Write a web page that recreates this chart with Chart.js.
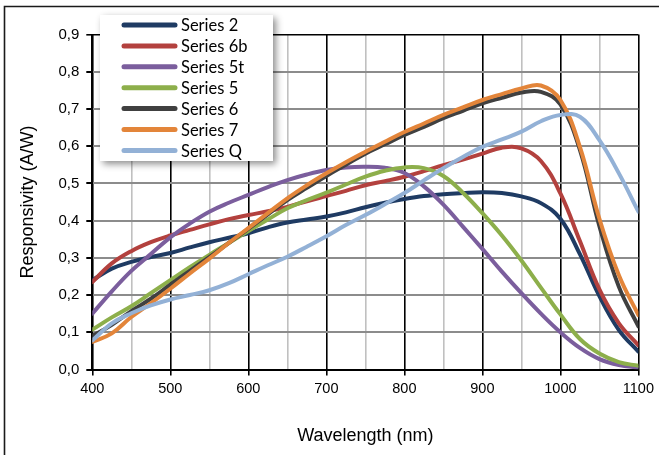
<!DOCTYPE html>
<html>
<head>
<meta charset="utf-8">
<title>Responsivity</title>
<script src="https://cdn.jsdelivr.net/npm/chart.js@4.4.1/dist/chart.umd.min.js"></script>
<style>
  html, body { margin: 0; padding: 0; background: #fff; }
  canvas { display: block; }
</style>
</head>
<body>
<canvas id="respChart" width="659" height="455"></canvas>
<script>
// wavelength samples (nm), shared by every series
const wavelengths = [400, 425, 450, 475, 500, 525, 550, 575, 600, 625, 650, 675, 700, 725, 750,
  775, 800, 825, 850, 875, 900, 925, 950, 975, 1000, 1025, 1050, 1075, 1100];

// responsivity (A/W)
const series2 = [0.240, 0.271, 0.289, 0.302, 0.313, 0.328, 0.342, 0.354, 0.366, 0.382, 0.395, 0.403, 0.411, 0.422, 0.436,
  0.448, 0.458, 0.466, 0.471, 0.474, 0.476, 0.474, 0.465, 0.447, 0.405, 0.310, 0.197, 0.106, 0.048];
const series6b = [0.235, 0.285, 0.318, 0.342, 0.360, 0.375, 0.390, 0.404, 0.415, 0.425, 0.437, 0.452, 0.466, 0.480, 0.495,
  0.506, 0.518, 0.533, 0.549, 0.564, 0.580, 0.596, 0.594, 0.560, 0.473, 0.345, 0.215, 0.124, 0.065];
const series5t = [0.150, 0.210, 0.265, 0.310, 0.355, 0.392, 0.424, 0.448, 0.469, 0.490, 0.509, 0.524, 0.536, 0.543, 0.545,
  0.542, 0.528, 0.492, 0.443, 0.384, 0.324, 0.263, 0.205, 0.150, 0.100, 0.058, 0.028, 0.012, 0.005];
const series5 = [0.107, 0.140, 0.170, 0.205, 0.240, 0.275, 0.308, 0.340, 0.372, 0.403, 0.433, 0.455, 0.475, 0.497, 0.518,
  0.534, 0.543, 0.541, 0.520, 0.475, 0.420, 0.360, 0.293, 0.220, 0.148, 0.082, 0.043, 0.020, 0.010];
const series6 = [0.090, 0.120, 0.157, 0.190, 0.228, 0.265, 0.302, 0.340, 0.378, 0.417, 0.455, 0.488, 0.520, 0.550, 0.580,
  0.605, 0.630, 0.652, 0.675, 0.695, 0.715, 0.730, 0.744, 0.746, 0.712, 0.590, 0.385, 0.222, 0.116];
const series7 = [0.074, 0.097, 0.141, 0.178, 0.217, 0.258, 0.298, 0.340, 0.380, 0.420, 0.460, 0.495, 0.527, 0.557, 0.585,
  0.612, 0.638, 0.661, 0.684, 0.704, 0.724, 0.740, 0.755, 0.763, 0.724, 0.598, 0.405, 0.253, 0.146];
const seriesQ = [0.078, 0.124, 0.151, 0.172, 0.188, 0.200, 0.213, 0.232, 0.256, 0.280, 0.303, 0.330, 0.358, 0.388, 0.415,
  0.444, 0.474, 0.508, 0.541, 0.571, 0.598, 0.618, 0.639, 0.667, 0.684, 0.679, 0.616, 0.527, 0.424];

const seriesNames = ["Series 2", "Series 6b", "Series 5t", "Series 5", "Series 6", "Series 7", "Series Q"];
const seriesValues = [series2, series6b, series5t, series5, series6, series7, seriesQ];
const seriesColors = ["#1F3B63", "#B3413E", "#7B5E9D", "#8DAF4B", "#404040", "#E3853A", "#93B1D6"];

// axis ticks
const xTickLabels = [400, 500, 600, 700, 800, 900, 1000, 1100];
const yTickLabels = [0, 0.1, 0.2, 0.3, 0.4, 0.5, 0.6, 0.7, 0.8, 0.9];

const fontFamily = '"Liberation Sans", Arial, sans-serif';
const xTickFont = { family: fontFamily, size: 14.5 };
const yTickFont = { family: fontFamily, size: 15 };
const titleFont = { family: fontFamily, size: 18 };

// --- legend box floating over the plot, with a soft shadow ---
const floatingLegend = {
  id: "floatingLegend",
  afterDraw(chart) {
    const ctx = chart.ctx;
    const bx = 100, by = 15, bw = 173, bh = 146;
    ctx.save();
    ctx.shadowColor = "rgba(0,0,0,0.45)";
    ctx.shadowBlur = 7;
    ctx.shadowOffsetX = 3;
    ctx.shadowOffsetY = 3;
    ctx.fillStyle = "#fff";
    ctx.fillRect(bx, by, bw, bh);
    ctx.restore();

    ctx.save();
    ctx.font = '16.5px Lato, "Noto Sans", sans-serif';
    ctx.textBaseline = "middle";
    ctx.lineCap = "round";
    chart.data.datasets.forEach((ds, i) => {
      const y = by + 10 + i * 20.9;
      ctx.strokeStyle = ds.borderColor;
      ctx.lineWidth = 5;
      ctx.beginPath();
      ctx.moveTo(124, y);
      ctx.lineTo(175, y);
      ctx.stroke();
      ctx.fillStyle = "#000";
      ctx.fillText(ds.label, 181, y + 1);
    });
    ctx.restore();
  }
};

// --- outer frame lines (left and top edge of the picture) ---
const outerFrame = {
  id: "outerFrame",
  beforeDraw(chart) {
    const ctx = chart.ctx;
    ctx.save();
    ctx.strokeStyle = "#1a1a1a";
    ctx.lineWidth = 1.6;
    ctx.beginPath();
    ctx.moveTo(4.5, 460);
    ctx.lineTo(4.5, 6.5);
    ctx.lineTo(660, 6.5);
    ctx.stroke();
    ctx.restore();
  }
};

const ctx = document.getElementById("respChart").getContext("2d");

new Chart(ctx, {
  type: "line",
  data: {
    labels: wavelengths,
    datasets: seriesNames.map((name, i) => ({
      label: name,
      data: wavelengths.map((w, k) => ({ x: w, y: seriesValues[i][k] })),
      borderColor: seriesColors[i],
      backgroundColor: seriesColors[i],
      borderWidth: 4,
      pointRadius: 0,
      fill: false,
      tension: 0.4,
      borderJoinStyle: "round",
      borderCapStyle: "round",
      order: seriesNames.length - i
    }))
  },
  options: {
    responsive: false,
    animation: false,
    layout: { padding: { left: 0, top: 34.5, right: 17.3, bottom: 0 } },
    plugins: {
      legend: { display: false },
      tooltip: { enabled: false }
    },
    scales: {
      x: {
        type: "linear",
        min: 400,
        max: 1100,
        afterFit(scale) { scale.height = 85.5; },
        ticks: {
          stepSize: 50,
          color: "#000",
          font: xTickFont,
          padding: 5,
          maxRotation: 0,
          autoSkip: false,
          callback: (v) => xTickLabels.includes(v) ? String(v) : ""
        },
        grid: {
          color: (c) => (c.tick && c.tick.value % 100 === 0) ? "#000" : "#c0c0c0",
          lineWidth: 1.6,
          tickLength: 6,
          tickColor: (c) => (c.tick && c.tick.value % 100 === 0) ? "#000" : "rgba(0,0,0,0)"
        },
        border: { color: "#000", width: 2 },
        title: {
          display: true,
          text: "Wavelength (nm)",
          color: "#000",
          font: titleFont,
          padding: { top: 0, bottom: 8.2 }
        }
      },
      y: {
        min: 0,
        max: 0.9,
        afterFit(scale) { scale.width = 92.3; },
        afterBuildTicks(scale) { scale.ticks = yTickLabels.map(v => ({ value: v })); },
        ticks: {
          color: "#000",
          font: yTickFont,
          padding: 7,
          callback: (v) => v.toFixed(1).replace(".", ",")
        },
        grid: {
          color: (c) => (c.tick && c.tick.value > 0.85) ? "#000" : "#8c8c8c",
          lineWidth: (c) => (c.tick && c.tick.value > 0.85) ? 1.6 : 2,
          tickLength: 6,
          tickColor: "#000"
        },
        border: { color: "#000", width: 2 },
        title: {
          display: true,
          text: "Responsivity (A/W)",
          color: "#000",
          font: titleFont,
          padding: { top: 17.2, bottom: 0 }
        }
      }
    }
  },
  plugins: [outerFrame, floatingLegend]
});
</script>
</body>
</html>
